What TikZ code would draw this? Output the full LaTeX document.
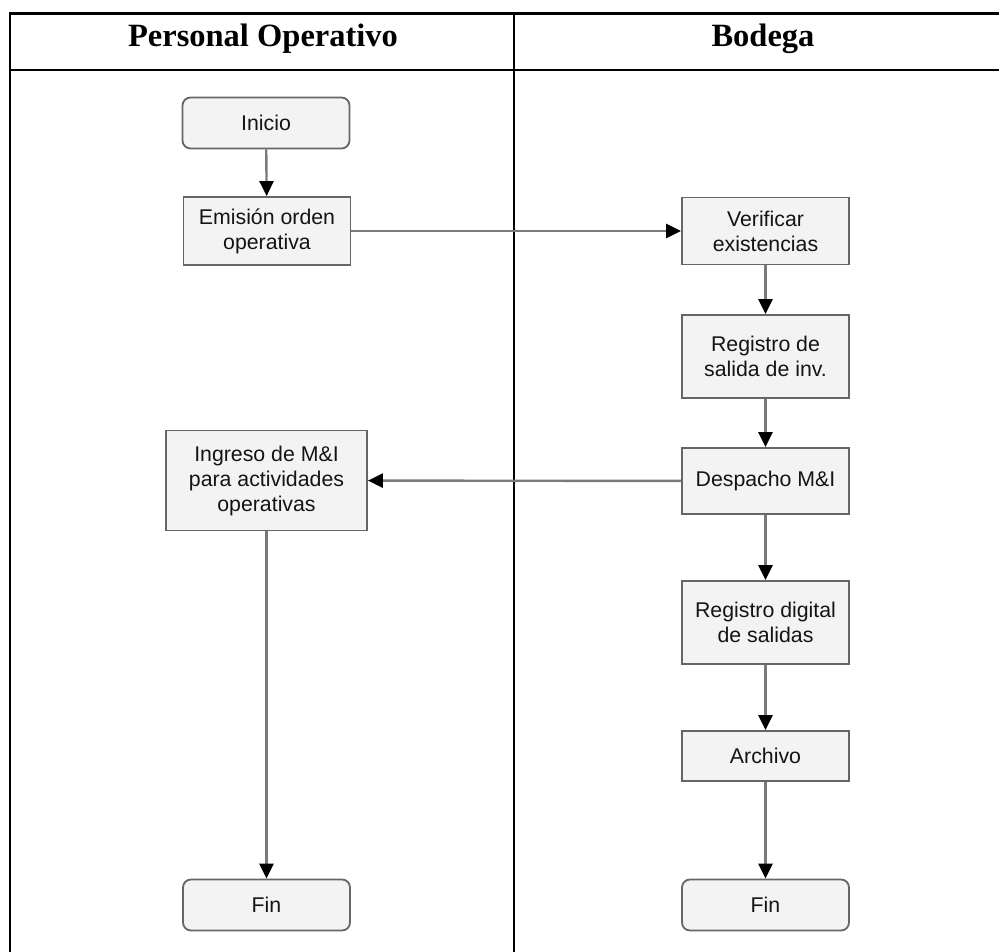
\documentclass[tikz,border=0pt]{standalone}
\usepackage{fontspec}
\setmainfont{Liberation Sans}
\newfontfamily\headfont{Liberation Serif}
\usetikzlibrary{arrows.meta}

\definecolor{boxgray}{HTML}{666666}
\definecolor{boxfill}{HTML}{F3F3F3}
\definecolor{linegray}{HTML}{7A7A7A}
\definecolor{textdark}{HTML}{141414}

\begin{document}
\begin{tikzpicture}[x=1pt,y=-1pt,
  proc/.style={draw=boxgray, line width=1.8pt, fill=boxfill,
    minimum width=167pt, align=center, inner sep=0pt,
    font=\fontsize{21.3}{25}\selectfont, text=textdark},
  term/.style={proc, rounded corners=8pt, minimum height=51pt},
  flow/.style={draw=linegray, line width=2.4pt,
    -{Triangle[length=15pt,width=14pt,color=black]}},
  lane/.style={draw=black, line width=2.2pt},
  head/.style={anchor=base, font=\headfont\bfseries\fontsize{32.5}{36}\selectfont}
]
\useasboundingbox (0,0) rectangle (999,952);

% swimlane table (runs past the right and bottom edges)
\begin{scope}
  \clip (0,0) rectangle (999,952);
  \draw[lane] (10,960) -- (10,13.5) -- (1020,13.5);
  \draw[lane] (10,70) -- (1020,70);
  \draw[lane] (514,13.5) -- (514,960);
\end{scope}

\node[head] (h1) at (263,46.7) {Personal Operativo};
\node[head] (h2) at (763,46.7) {Bodega};

% Personal Operativo lane
\node[term] (inicio) at (266,123) {Inicio};
\node[proc, minimum height=68pt] (emision) at (267,231) {Emisión orden\\operativa};
\node[proc, minimum width=201pt, minimum height=100pt] (ingreso) at (266.5,480.5)
  {Ingreso de M\&I\\para actividades\\operativas};
\node[term] (fin1) at (266.5,905) {Fin};

% Bodega lane
\node[proc, minimum height=67pt] (verif) at (765.5,231) {Verificar\\existencias};
\node[proc, minimum height=83pt] (regsal) at (765.5,356.5) {Registro de\\salida de inv.};
\node[proc, minimum height=66pt] (despacho) at (765.5,481) {Despacho M\&I};
\node[proc, minimum height=83pt] (regdig) at (765.5,622.5) {Registro digital\\de salidas};
\node[proc, minimum height=50pt] (archivo) at (765.5,756) {Archivo};
\node[term] (fin2) at (765.5,905) {Fin};

% connectors
\draw[flow] (inicio) -- (emision);
\draw[flow] (emision) -- (verif);
\draw[flow] (verif) -- (regsal);
\draw[flow] (regsal) -- (despacho);
\draw[flow] (despacho) -- (ingreso);
\draw[flow] (despacho) -- (regdig);
\draw[flow] (regdig) -- (archivo);
\draw[flow] (archivo) -- (fin2);
\draw[flow] (ingreso) -- (fin1);
\end{tikzpicture}
\end{document}
